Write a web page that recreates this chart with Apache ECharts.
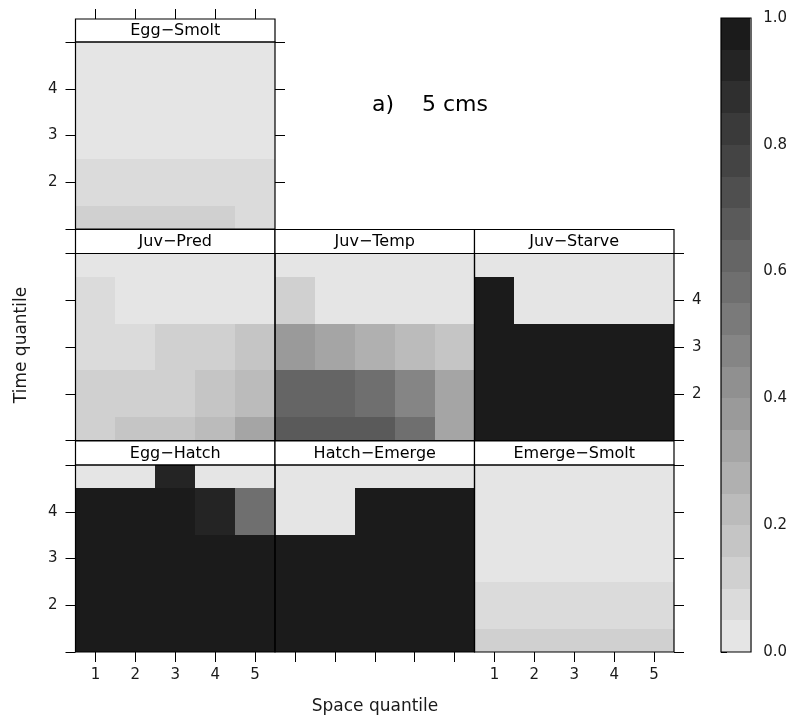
<!DOCTYPE html>
<html><head><meta charset="utf-8">
<script src="https://cdn.jsdelivr.net/npm/echarts@6/dist/echarts.min.js"></script>
<style>html,body{margin:0;padding:0;background:#fff}#c{width:790px;height:721px}</style>
</head><body><div id="c"></div>
<script>
// ---------------- data ----------------
const spaceTicks = [1, 2, 3, 4, 5];          // Space quantile (columns)
const timeTicks = [1, 2, 3, 4, 5];           // Time quantile (rows, bottom to top)
const timeLabels = [2, 3, 4];
const legendBreaks = [0, 0.05, 0.1, 0.15, 0.2, 0.25, 0.3, 0.35, 0.4, 0.45, 0.5,
                      0.55, 0.6, 0.65, 0.7, 0.75, 0.8, 0.85, 0.9, 0.95, 1.0];
const legendTicks = [0, 0.2, 0.4, 0.6, 0.8, 1.0];
const grayLevels = ['#e5e5e5', '#dbdbdb', '#d0d0d0', '#c5c5c5', '#bbbbbb', '#b0b0b0', '#a5a5a5',
                    '#9a9a9a', '#909090', '#858585', '#7a7a7a', '#6f6f6f', '#656565', '#5a5a5a',
                    '#4f4f4f', '#444444', '#3a3a3a', '#2f2f2f', '#242424', '#1b1b1b'];
const panelNames = ['Egg\u2212Smolt', 'Juv\u2212Pred', 'Juv\u2212Temp', 'Juv\u2212Starve',
                    'Egg\u2212Hatch', 'Hatch\u2212Emerge', 'Emerge\u2212Smolt'];
const titleText = 'a)    5 cms';
const xTitle = 'Space quantile';
const yTitle = 'Time quantile';

// each matrix: rows = time quantile 1..5 (bottom to top), columns = space quantile 1..5
const eggSmolt = [
  [0.12, 0.12, 0.12, 0.12, 0.08],
  [0.08, 0.07, 0.07, 0.07, 0.07],
  [0.03, 0.03, 0.03, 0.03, 0.03],
  [0.02, 0.02, 0.02, 0.02, 0.02],
  [0.02, 0.02, 0.02, 0.02, 0.02]
];
const juvPred = [
  [0.12, 0.17, 0.17, 0.22, 0.32],
  [0.12, 0.12, 0.13, 0.17, 0.22],
  [0.07, 0.08, 0.12, 0.12, 0.17],
  [0.07, 0.03, 0.03, 0.03, 0.03],
  [0.02, 0.02, 0.02, 0.02, 0.02]
];
const juvTemp = [
  [0.67, 0.68, 0.66, 0.57, 0.32],
  [0.62, 0.61, 0.58, 0.47, 0.33],
  [0.37, 0.33, 0.27, 0.22, 0.17],
  [0.12, 0.03, 0.03, 0.03, 0.03],
  [0.02, 0.02, 0.02, 0.02, 0.02]
];
const juvStarve = [
  [0.99, 0.99, 0.99, 0.99, 0.99],
  [0.98, 0.98, 0.98, 0.98, 0.98],
  [0.97, 0.98, 0.98, 0.97, 0.97],
  [0.98, 0.03, 0.03, 0.03, 0.03],
  [0.02, 0.02, 0.02, 0.02, 0.02]
];
const eggHatch = [
  [0.99, 0.99, 0.99, 0.99, 0.99],
  [0.99, 0.99, 0.99, 0.99, 0.99],
  [0.98, 0.98, 0.98, 0.98, 0.97],
  [0.99, 0.98, 0.97, 0.92, 0.57],
  [0.03, 0.03, 0.93, 0.03, 0.03]
];
const hatchEmerge = [
  [0.99, 0.99, 0.99, 0.99, 0.99],
  [0.99, 0.99, 0.99, 0.99, 0.99],
  [0.98, 0.98, 0.98, 0.98, 0.98],
  [0.03, 0.03, 0.97, 0.98, 0.98],
  [0.02, 0.02, 0.02, 0.02, 0.02]
];
const emergeSmolt = [
  [0.12, 0.12, 0.12, 0.12, 0.12],
  [0.07, 0.07, 0.07, 0.07, 0.07],
  [0.03, 0.03, 0.03, 0.03, 0.03],
  [0.02, 0.02, 0.02, 0.02, 0.02],
  [0.02, 0.02, 0.02, 0.02, 0.02]
];

// ---------------- layout ----------------
const FONT = 'DejaVu Sans';
const TXT = '#1a1a1a';
const colLeft = [75.5, 275, 474.5];
const rowTop = [42, 253.5, 465];
const stripTop = [19, 229.5, 441];
const panelW = 199.5, panelH = 187;

const panels = [
  {name: panelNames[0], data: eggSmolt, col: 0, row: 0, left: 'label', right: 'tick', top: 'tick'},
  {name: panelNames[1], data: juvPred, col: 0, row: 1, left: 'tick'},
  {name: panelNames[2], data: juvTemp, col: 1, row: 1},
  {name: panelNames[3], data: juvStarve, col: 2, row: 1, right: 'label'},
  {name: panelNames[4], data: eggHatch, col: 0, row: 2, left: 'label', bottom: 'label'},
  {name: panelNames[5], data: hatchEmerge, col: 1, row: 2, bottom: 'tick'},
  {name: panelNames[6], data: emergeSmolt, col: 2, row: 2, right: 'tick', bottom: 'label'}
];

const R = Math.round;
function cellRender(params, api) {
  const x = api.value(0), y = api.value(1);
  const p0 = api.coord([x - 0.5, y + 0.5]);
  const p1 = api.coord([x + 0.5, y - 0.5]);
  const cs = params.coordSys;
  const cx0 = R(cs.x), cy0 = R(cs.y), cx1 = R(cs.x + cs.width), cy1 = R(cs.y + cs.height);
  const x0 = Math.max(R(p0[0]), cx0), x1 = Math.min(R(p1[0]), cx1);
  const y0 = Math.max(R(p0[1]), cy0), y1 = Math.min(R(p1[1]), cy1);
  if (x1 <= x0 || y1 <= y0) return;
  const c = api.visual('color');
  return {type: 'rect', shape: {x: x0, y: y0, width: x1 - x0, height: y1 - y0}, style: {fill: c}};
}
function barRender(params, api) {
  const lo = api.value(0), hi = api.value(1);
  const p0 = api.coord([0, hi]);
  const p1 = api.coord([1, lo]);
  const c = api.visual('color');
  const x0 = R(p0[0]), y0 = R(p0[1]), x1 = R(p1[0]), y1 = R(p1[1]);
  return {type: 'rect', shape: {x: x0, y: y0, width: x1 - x0, height: y1 - y0}, style: {fill: c}};
}

const grids = [], xAxes = [], yAxes = [], series = [], graphics = [];
const labelStyle = {fontSize: 15, fontFamily: FONT, color: TXT};

panels.forEach((p, i) => {
  const L = colLeft[p.col], T = rowTop[p.row];
  const W = panelW;
  grids.push({left: L, top: T, width: W, height: panelH, show: false});
  const mkX = (pos, mode, offset) => ({
    gridIndex: i, type: 'value', min: 0.5, max: 5.5, position: pos, offset: offset || 0,
    axisLine: {show: false}, splitLine: {show: false},
    axisTick: {show: !!mode, length: 10, lineStyle: {color: '#000', width: 1}, customValues: spaceTicks},
    axisLabel: Object.assign({show: mode === 'label', customValues: spaceTicks, margin: 16}, labelStyle)
  });
  const mkY = (pos, mode) => ({
    gridIndex: i, type: 'value', min: 1, max: 5, position: pos,
    axisLine: {show: false}, splitLine: {show: false},
    axisTick: {show: !!mode, length: 10, lineStyle: {color: '#000', width: 1}, customValues: timeTicks},
    axisLabel: Object.assign({show: mode === 'label', customValues: timeLabels, margin: 18}, labelStyle)
  });
  const xi = xAxes.length;
  xAxes.push(mkX('bottom', p.bottom));
  if (p.top) xAxes.push(mkX('top', p.top, T - stripTop[p.row]));
  const yi = yAxes.length;
  yAxes.push(mkY('left', p.left));
  if (p.right) yAxes.push(mkY('right', p.right));

  const cells = [];
  p.data.forEach((row, r) => row.forEach((v, c) => cells.push([spaceTicks[c], timeTicks[r], v])));
  series.push({type: 'custom', name: p.name, xAxisIndex: xi, yAxisIndex: yi,
               renderItem: cellRender, data: cells, encode: {x: 0, y: 1}, z: 2});

  // strip and border
  const sT = stripTop[p.row];
  graphics.push({type: 'rect', z: 100, shape: {x: L, y: sT, width: W, height: T - sT},
                 style: {fill: '#fff', stroke: '#000', lineWidth: 1.2}});
  graphics.push({type: 'text', z: 101, x: L + W / 2, y: sT + (T - sT) / 2 + 0.5,
                 style: {text: p.name, align: 'center', verticalAlign: 'middle',
                         fontSize: 16, fontFamily: FONT, fill: '#000'}});
  graphics.push({type: 'rect', z: 100, shape: {x: L, y: T, width: W, height: panelH},
                 style: {fill: 'none', stroke: '#000', lineWidth: 1.2}});
});

// colour key
const gi = grids.length;
const cbLeft = 721, cbTop = 18, cbW = 30, cbH = 634;
grids.push({left: cbLeft, top: cbTop, width: cbW, height: cbH, show: false});
const cbx = xAxes.length;
xAxes.push({gridIndex: gi, type: 'value', min: 0, max: 1, show: false});
const cby = yAxes.length;
yAxes.push({gridIndex: gi, type: 'value', min: 0, max: 1, interval: 0.2, position: 'right',
            axisLine: {show: false}, splitLine: {show: false},
            axisTick: {length: 6, lineStyle: {color: '#000', width: 1}, customValues: legendTicks},
            axisLabel: Object.assign({margin: 13, customValues: legendTicks,
                                      formatter: v => v.toFixed(1)}, labelStyle)});
const barData = [];
for (let k = 0; k < grayLevels.length; k++) {
  barData.push([legendBreaks[k], legendBreaks[k + 1], (legendBreaks[k] + legendBreaks[k + 1]) / 2]);
}
series.push({type: 'custom', name: 'key', xAxisIndex: cbx, yAxisIndex: cby,
             renderItem: barRender, data: barData, z: 2});
graphics.push({type: 'rect', z: 100, shape: {x: cbLeft, y: cbTop, width: cbW, height: cbH},
               style: {fill: 'none', stroke: '#000', lineWidth: 1.2}});

// texts
graphics.push({type: 'text', z: 101, x: 372, y: 105,
               style: {text: titleText, align: 'left', verticalAlign: 'middle',
                       fontSize: 22, fontFamily: FONT, fill: '#000'}});
graphics.push({type: 'text', z: 101, x: 375, y: 707,
               style: {text: xTitle, align: 'center', verticalAlign: 'middle',
                       fontSize: 17, fontFamily: FONT, fill: TXT}});
graphics.push({type: 'text', z: 101, x: 22, y: 345, rotation: Math.PI / 2,
               style: {text: yTitle, align: 'center', verticalAlign: 'middle',
                       fontSize: 17, fontFamily: FONT, fill: TXT}});

const pieces = grayLevels.map((c, k) => k === grayLevels.length - 1
  ? {gte: legendBreaks[k], lte: legendBreaks[k + 1], color: c}
  : {gte: legendBreaks[k], lt: legendBreaks[k + 1], color: c});

const chart = echarts.init(document.getElementById('c'), null, {renderer: 'canvas'});
chart.setOption({
  animation: false,
  backgroundColor: '#fff',
  grid: grids,
  xAxis: xAxes,
  yAxis: yAxes,
  visualMap: {type: 'piecewise', show: false, dimension: 2,
              seriesIndex: series.map((s, i) => i), pieces: pieces},
  series: series,
  graphic: {elements: graphics}
});
</script>
</body></html>
